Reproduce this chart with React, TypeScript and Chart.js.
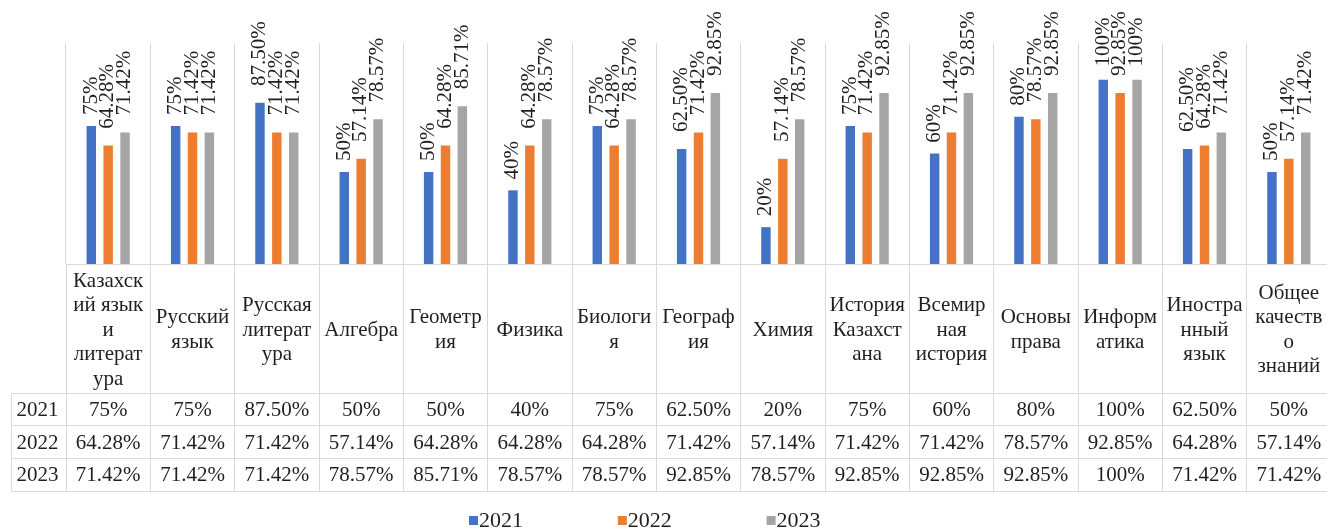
import React, { useEffect, useRef } from "react";
import { Chart, registerables } from "chart.js";

Chart.register(...registerables);

// ---- data ----
const categories = [
  "Казахский язык и литература",
  "Русский язык",
  "Русская литература",
  "Алгебра",
  "Геометрия",
  "Физика",
  "Биология",
  "География",
  "Химия",
  "История Казахстана",
  "Всемирная история",
  "Основы права",
  "Информатика",
  "Иностранный язык",
  "Общее качество знаний",
];

// how each category name is broken into lines in the table header
const categoryLines = [
  ["Казахск", "ий язык", "и", "литерат", "ура"],
  ["Русский", "язык"],
  ["Русская", "литерат", "ура"],
  ["Алгебра"],
  ["Геометр", "ия"],
  ["Физика"],
  ["Биологи", "я"],
  ["Географ", "ия"],
  ["Химия"],
  ["История", "Казахст", "ана"],
  ["Всемир", "ная", "история"],
  ["Основы", "права"],
  ["Информ", "атика"],
  ["Иностра", "нный", "язык"],
  ["Общее", "качеств", "о", "знаний"],
];

const years = ["2021", "2022", "2023"];
const values2021 = [75, 75, 87.5, 50, 50, 40, 75, 62.5, 20, 75, 60, 80, 100, 62.5, 50];
const values2022 = [64.28, 71.42, 71.42, 57.14, 64.28, 64.28, 64.28, 71.42, 57.14, 71.42, 71.42, 78.57, 92.85, 64.28, 57.14];
const values2023 = [71.42, 71.42, 71.42, 78.57, 85.71, 78.57, 78.57, 92.85, 78.57, 92.85, 92.85, 92.85, 100, 71.42, 71.42];
const seriesValues = [values2021, values2022, values2023];
const seriesColors = ["#4472C4", "#ED7D31", "#A5A5A5"];

// ---- styles ----
const FONT = '"Liberation Serif", "Times New Roman", Times, serif';
const TEXT = "#1f1f1f";
const GRID = "#d9d9d9";

function fmt(v: number): string {
  return Number.isInteger(v) ? `${v}%` : `${v.toFixed(2)}%`;
}

function align(p: number): number {
  return Math.round(p - 0.5) + 0.5;
}

const tablePlugin = {
  id: "tableAndLabels",
  afterDatasetsDraw(chart: any) {
    const ctx: CanvasRenderingContext2D = chart.ctx;
    ctx.save();
    ctx.fillStyle = TEXT;
    ctx.font = `20px ${FONT}`;
    ctx.textAlign = "left";
    ctx.textBaseline = "middle";
    const stretch = 1.05;
    chart.data.datasets.forEach((ds: any, di: number) => {
      const meta = chart.getDatasetMeta(di);
      meta.data.forEach((bar: any, i: number) => {
        const txt = fmt(ds.data[i] as number);
        const w = ctx.measureText(txt).width * stretch;
        const gap = 2 + 0.23 * w;
        ctx.save();
        ctx.translate(bar.x, bar.y - gap);
        ctx.rotate(-Math.PI / 2);
        ctx.scale(stretch, 1);
        ctx.fillText(txt, 0, 0);
        ctx.restore();
      });
    });
    ctx.restore();
  },
  afterDraw(chart: any) {
    const ctx: CanvasRenderingContext2D = chart.ctx;
    const area = chart.chartArea;
    const xs = chart.scales.x;
    const n = categories.length;
    const cw = (area.right - area.left) / n;
    const top = area.bottom;
    const headerBottom = top + 129;
    const rowH = 32.7;
    const tableBottom = headerBottom + rowH * years.length;
    const leftX = area.left - 55;

    ctx.save();
    ctx.strokeStyle = GRID;
    ctx.lineWidth = 1;
    const line = (x1: number, y1: number, x2: number, y2: number) => {
      ctx.beginPath();
      ctx.moveTo(x1, y1);
      ctx.lineTo(x2, y2);
      ctx.stroke();
    };
    for (let i = 0; i <= n; i++) {
      const x = align(xs.getPixelForValue(i) - cw / 2);
      line(x, top, x, tableBottom);
    }
    line(align(leftX), headerBottom, align(leftX), tableBottom);
    for (let r = 0; r <= years.length; r++) {
      const y = align(headerBottom + r * rowH);
      line(align(leftX), y, area.right, y);
    }

    // header labels
    ctx.fillStyle = TEXT;
    ctx.font = `21px ${FONT}`;
    ctx.textAlign = "center";
    ctx.textBaseline = "middle";
    const lh = 24.5;
    const headerMid = top + 66;
    categoryLines.forEach((lines, i) => {
      const cx = xs.getPixelForValue(i);
      lines.forEach((t, k) => {
        ctx.fillText(t, cx, headerMid + (k - (lines.length - 1) / 2) * lh);
      });
    });

    // rows
    years.forEach((yr, r) => {
      const cy = headerBottom + r * rowH + rowH / 2 + 1;
      ctx.fillText(yr, (leftX + area.left) / 2 - 1, cy);
      seriesValues[r].forEach((v, i) => {
        ctx.fillText(fmt(v), xs.getPixelForValue(i), cy);
      });
    });

    // legend
    const legendStart = 469;
    const legendGap = 148.8;
    const ly = 521;
    ctx.font = `22px ${FONT}`;
    ctx.textAlign = "left";
    years.forEach((yr, r) => {
      const lx = legendStart + r * legendGap;
      ctx.fillStyle = seriesColors[r];
      ctx.fillRect(lx, ly - 5, 9, 9);
      ctx.fillStyle = TEXT;
      ctx.fillText(yr, lx + 10, ly);
    });
    ctx.restore();
  },
};

export default function App() {
  const ref = useRef<HTMLCanvasElement | null>(null);
  useEffect(() => {
    let chart: Chart | null = null;
    let cancelled = false;
    const build = () => {
      if (cancelled || !ref.current) return;
      chart = new Chart(ref.current, {
        type: "bar",
        data: {
          labels: categories,
          datasets: years.map((yr, i) => ({
            label: yr,
            data: seriesValues[i],
            backgroundColor: seriesColors[i],
            borderWidth: 0,
            categoryPercentage: 0.6,
            barPercentage: 0.56,
          })),
        },
        options: {
          responsive: false,
          animation: false,
          devicePixelRatio: 1,
          layout: { padding: { left: 66, top: 43, right: 1, bottom: 265 } },
          plugins: {
            legend: { display: false },
            tooltip: { enabled: false },
          },
          scales: {
            x: {
              display: true,
              offset: true,
              ticks: { display: false },
              grid: { offset: true, drawTicks: false, color: GRID, lineWidth: 1 },
              border: { display: true, color: GRID },
            },
            y: {
              display: false,
              min: 0,
              max: 120,
            },
          },
        },
        plugins: [tablePlugin],
      });
    };
    const fonts: any = (document as any).fonts;
    if (fonts && fonts.load) {
      fonts.load(`20px "Liberation Serif"`, "Казахск 75%").then(build, build);
    } else {
      build();
    }
    return () => {
      cancelled = true;
      if (chart) chart.destroy();
    };
  }, []);
  return (
    <div
      style={{
        position: "absolute",
        left: 0,
        top: 0,
        width: 1327,
        height: 529,
        overflow: "hidden",
        background: "#ffffff",
        fontFamily: FONT,
      }}
    >
      <canvas ref={ref} width={1332} height={529} style={{ display: "block" }} />
    </div>
  );
}
